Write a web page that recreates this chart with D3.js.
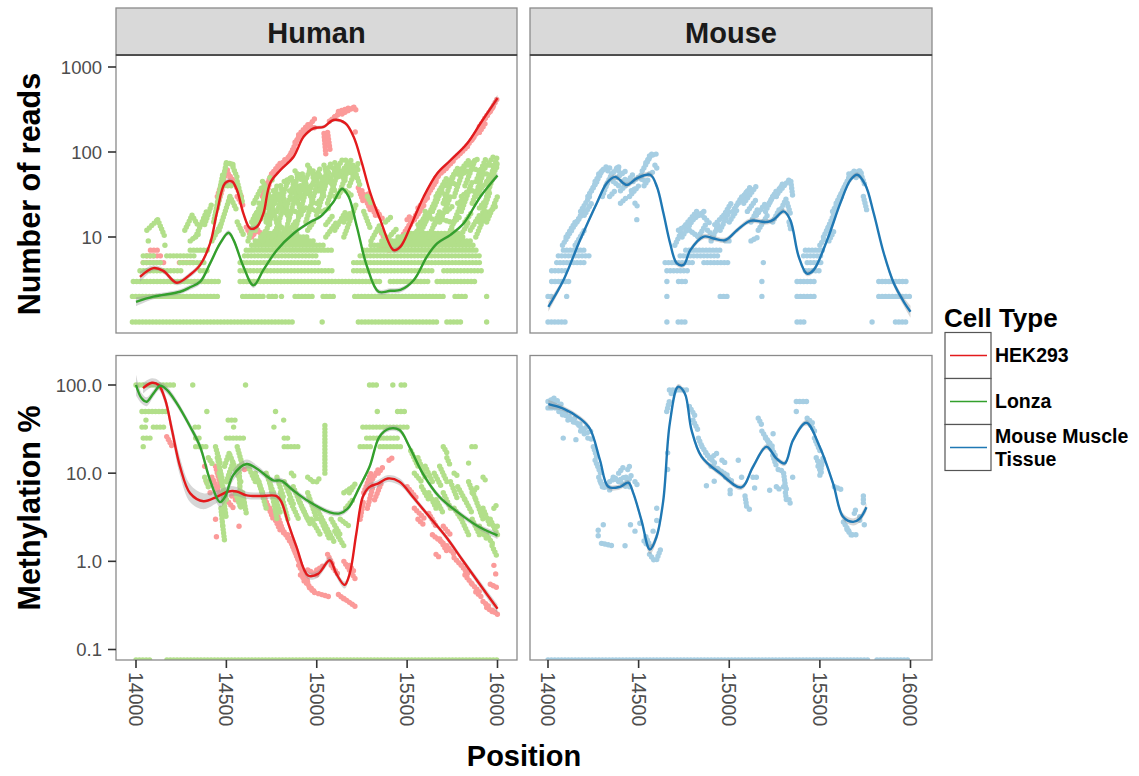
<!DOCTYPE html>
<html><head><meta charset="utf-8">
<script src="https://cdn.jsdelivr.net/npm/d3@7"></script>
<style>body{margin:0;background:#fff} svg{display:block} text{font-family:"Liberation Sans",Arial,Helvetica,sans-serif}</style>
</head><body><svg id="c" width="1139" height="776"></svg>
<script>
// ---------- labels / ticks ----------
const facets = ["Human", "Mouse"];
const cellTypes = ["HEK293", "Lonza", "Mouse Muscle Tissue"];
const xTicks = [14000, 14500, 15000, 15500, 16000];
const readsTicks = [10, 100, 1000];
const readsTickLabels = ["10", "100", "1000"];
const methTicks = [0.1, 1, 10, 100];
const methTickLabels = ["0.1", "1.0", "10.0", "100.0"];

// ---------- smoothed fits: [position, fit, half-width of band (log10)] ----------
const hekReadsFit = [[14022,3.4,0.06],[14096,4.3,0.03],[14151,4.0,0.03],[14225,2.9,0.03],[14299,3.6,0.03],[14355,4.7,0.03],[14410,8.4,0.03],[14447,19,0.03],[14493,43,0.03],[14530,45,0.03],[14558,36,0.03],[14594,19,0.03],[14632,12.6,0.03],[14669,13.2,0.03],[14705,19,0.03],[14742,43,0.03],[14798,61,0.02],[14872,88,0.02],[14927,151,0.02],[14982,190,0.02],[15038,198,0.02],[15093,238,0.02],[15158,218,0.02],[15204,151,0.02],[15250,74,0.02],[15296,33,0.02],[15352,15.8,0.02],[15426,7.0,0.03],[15463,7.7,0.03],[15518,13.2,0.02],[15592,30,0.02],[15666,56,0.02],[15740,80,0.02],[15832,126,0.02],[15906,218,0.02],[16000,430,0.04]];
const lonzaReadsFit = [[14000,1.73,0.05],[14096,1.99,0.03],[14244,2.27,0.03],[14299,2.56,0.03],[14355,2.98,0.03],[14410,4.9,0.03],[14465,8.4,0.03],[14512,11.2,0.03],[14540,9.2,0.03],[14594,4.5,0.03],[14650,2.7,0.03],[14705,4.1,0.02],[14779,7.0,0.02],[14872,11,0.02],[14964,15,0.02],[15019,17.3,0.02],[15093,26,0.02],[15140,37,0.02],[15176,30,0.02],[15222,13.2,0.02],[15278,4.5,0.02],[15342,2.27,0.03],[15407,2.33,0.03],[15463,2.38,0.03],[15536,3.1,0.02],[15610,5.9,0.02],[15666,8.4,0.02],[15740,10.6,0.02],[15813,14.5,0.02],[15906,30,0.02],[16000,53,0.03]];
const mouseReadsFit = [[14002,1.51,0.06],[14085,3.1,0.03],[14177,9.2,0.03],[14269,25,0.03],[14324,43,0.03],[14370,51,0.03],[14435,41,0.03],[14490,49,0.03],[14564,54,0.03],[14601,39,0.03],[14637,19,0.03],[14674,8.4,0.03],[14711,4.9,0.03],[14748,4.7,0.03],[14785,7.0,0.03],[14859,10.1,0.03],[14914,9.6,0.03],[14978,9.2,0.03],[15043,12,0.03],[15116,15.5,0.03],[15208,15,0.03],[15245,16,0.03],[15300,20,0.03],[15337,15.8,0.03],[15383,5.9,0.03],[15429,3.7,0.03],[15466,4.1,0.03],[15540,9.2,0.03],[15613,25,0.03],[15669,47,0.03],[15706,54,0.03],[15751,41,0.03],[15797,19,0.03],[15853,6.4,0.03],[15908,2.85,0.04],[15963,1.73,0.05],[16000,1.32,0.07]];
const hekMethFit = [[14039,92,0.06],[14088,106,0.05],[14125,100,0.05],[14162,67.6,0.06],[14199,30.8,0.08],[14244,11.8,0.1],[14300,5.9,0.1],[14373,4.8,0.09],[14447,5.4,0.07],[14511,6.2,0.06],[14557,6.2,0.05],[14612,5.6,0.04],[14686,5.5,0.04],[14778,5.5,0.04],[14805,4.7,0.04],[14842,2.7,0.04],[14888,1.46,0.04],[14952,0.69,0.04],[15007,0.72,0.04],[15072,1.03,0.04],[15109,0.72,0.04],[15154,0.54,0.04],[15182,0.72,0.04],[15219,2.07,0.04],[15255,5.4,0.04],[15292,7.0,0.04],[15338,7.6,0.04],[15393,8.7,0.04],[15458,8.0,0.04],[15531,5.4,0.03],[15623,3.2,0.03],[15715,1.9,0.03],[15807,1.03,0.03],[15899,0.56,0.04],[16000,0.29,0.05]];
const lonzaMethFit = [[14000,100,0.12],[14031,70.6,0.06],[14059,64.6,0.05],[14096,80,0.04],[14134,98,0.04],[14171,88,0.04],[14226,62,0.04],[14300,33.6,0.04],[14355,19.9,0.05],[14410,8.3,0.05],[14465,4.7,0.06],[14493,5.4,0.06],[14538,9.5,0.06],[14612,12.7,0.05],[14667,11.3,0.04],[14759,8.3,0.03],[14805,8.2,0.03],[14869,6.4,0.03],[14961,4.7,0.03],[15072,3.6,0.03],[15127,3.5,0.03],[15173,4.0,0.03],[15237,7.0,0.03],[15292,11.8,0.03],[15347,25.9,0.03],[15402,32,0.03],[15458,30.8,0.03],[15513,19.9,0.03],[15587,9.9,0.03],[15678,5.4,0.03],[15789,3.5,0.03],[15899,2.45,0.03],[16000,1.97,0.04]];
const mouseMethFit = [[14002,60.8,0.05],[14085,54,0.03],[14176,41.8,0.03],[14231,32,0.03],[14287,14,0.03],[14333,7,0.03],[14397,7,0.03],[14443,7.8,0.03],[14471,5.9,0.03],[14516,2.9,0.04],[14562,1.36,0.05],[14599,1.9,0.05],[14636,4.9,0.04],[14672,36.7,0.04],[14718,95.6,0.03],[14755,80,0.03],[14792,30.8,0.03],[14847,15.4,0.03],[14948,10,0.03],[15067,6.9,0.03],[15131,11.8,0.03],[15205,19.9,0.03],[15260,14.7,0.03],[15306,12.9,0.03],[15352,23.7,0.03],[15425,37.3,0.03],[15499,19.9,0.03],[15573,7.6,0.03],[15628,3.2,0.04],[15683,2.8,0.04],[15720,3.05,0.04],[15757,4.1,0.05]];

// ---------- raw observations ----------
// rows of points at one value: [start position, end position, value]  (value 0 = zero methylation)
// streaks of consecutive points: [pos1, value1, pos2, value2]
const hekReadsRows = [[14040,14170,5],[14060,14150,6],[14080,14130,7],[14240,14320,5]];
const hekReadsStreaks = [
 [14450,30,14490,55],[14470,40,14510,65],[14500,60,14540,45],[14520,50,14570,38],[14540,45,14590,28],[14560,30,14600,22],[14455,25,14480,38],
 [14610,13,14640,10],[14640,10,14670,12],[14650,14,14690,11],
 [14700,20,14740,45],[14720,40,14760,60],[14750,55,14800,75],[14780,60,14830,85],[14700,30,14720,42],
 [14830,80,14880,110],[14850,90,14900,150],[14880,130,14930,180],[14900,160,14960,220],[14930,170,14990,250],[14950,200,15000,190],
 [15040,165,15050,95],[15060,170,15075,100],
 [15070,230,15120,280],[15100,260,15160,320],[15140,280,15210,340],[15120,300,15180,330],[15200,330,15230,300],[15213,172,15213,172],
 [15230,38,15260,25],[15250,35,15300,20],[15280,30,15330,17],[15300,25,15350,18],[15320,20,15370,16],[15260,28,15290,33],[15350,12,15370,10],
 [15350,8,15400,7.5],[15400,7,15460,8],[15440,8,15470,9],
 [15470,10,15530,16],[15500,12,15560,20],[15540,16,15600,25],[15560,22,15620,30],[15600,28,15660,45],[15620,35,15680,55],[15660,50,15720,65],
 [15700,60,15760,80],[15740,75,15800,100],[15780,90,15840,120],[15820,110,15870,150],[15860,140,15910,200],[15900,200,15950,280],
 [15930,250,15980,350],[15960,300,16000,430],[15900,170,15940,230],[15500,16,15520,18]
];
const lonzaReadsRows = [
 [13980,14880,1],[15030,15030,1],[15230,15675,1],[15720,15800,1],[15940,15940,1],
 [13980,14460,2],[14590,14715,2],[14735,14780,2],[14805,14805,2],[14880,14980,2],[15035,15095,2],[15210,15700,2],[15765,15825,2],[15940,15940,2],
 [13985,14457,3],[14576,15352,3],[15407,15629,3],[15666,15887,3],
 [14022,14260,4],[14355,14410,4],[14576,15093,4],[15204,15647,4],[15703,15924,4],
 [14040,14150,5],[14244,14392,5],[14576,15019,5],[15204,15906,5],
 [14040,14100,6],[14170,14330,6],[14600,15000,6],[15240,15906,6],
 [14300,14410,7],[14610,15093,7],[15260,15890,7],
 [14640,15050,8],[15300,15880,8],
 [14660,14990,9],[15360,15850,9],[14700,14950,10],[15450,15820,10],[14720,14900,11],[15520,15800,11]
];
const lonzaReadsStreaks = [
 [14060,12,14120,16],[14120,16,14160,10],[14068,9,14068,9],[14160,8,14160,8],
 [14270,12,14310,18],[14310,18,14340,14],[14330,10,14390,20],[14380,14,14420,25],[14300,9,14350,11],
 [14430,15,14480,55],[14450,22,14500,75],[14500,75,14550,70],[14530,72,14560,50],[14460,12,14520,30],[14520,30,14560,20],[14470,40,14540,40],[14560,45,14590,25],[14420,9,14470,14],[14560,15,14600,10],
 [14620,9,14680,22],[14660,12,14720,35],[14680,25,14740,14],[14700,9,14760,20],[14720,15,14780,40],[14740,30,14790,12],[14760,9,14820,25],
 [14780,20,14840,45],[14800,40,14850,15],[14820,10,14880,30],[14840,25,14900,55],[14860,50,14910,20],[14880,12,14940,35],[14900,30,14960,60],
 [14920,55,14980,25],[14940,15,15000,40],[14960,35,15020,65],[14980,60,15040,30],[15000,18,15060,50],[15020,40,15080,75],[15040,70,15100,35],
 [15060,25,15120,60],[15080,50,15140,80],[15100,75,15160,45],[15120,30,15180,70],[15140,60,15200,85],[15160,80,15220,50],[15180,40,15230,75],
 [15200,70,15240,40],[15100,12,15160,20],[15150,10,15220,25],[15050,10,15110,15],[14700,45,14740,30],[14650,25,14700,40],[14950,70,14990,50],[14880,60,14920,45],
 [14640,15,14670,20],[14690,18,14720,25],[14730,22,14760,30],[14770,25,14800,35],[14810,30,14840,22],[14850,35,14880,40],[14890,40,14920,28],
 [14930,45,14960,35],[14970,40,15000,50],[15010,55,15040,45],[15050,60,15080,55],[15090,65,15120,50],[15130,55,15160,65],[15170,60,15200,55],
 [14750,10,14790,14],[14850,12,14890,16],[14950,12,14990,16],[15050,14,15090,18],[15150,15,15190,20],[14690,10,14720,12],[14900,18,14940,22],
 [15000,25,15040,30],[15100,30,15140,35],
 [14660,18,14700,16],[14710,28,14750,25],[14760,35,14800,28],[14800,22,14840,18],[14860,28,14900,25],[14910,40,14950,32],[14960,22,15000,20],
 [15010,35,15050,40],[15060,45,15100,42],[15110,55,15150,50],[15160,35,15200,30],[15190,60,15230,62],[14820,45,14860,50],[14740,50,14760,45],
 [14980,50,15020,55],[15030,20,15070,22],[14780,15,14820,12],[14880,20,14920,18],
 [15260,20,15300,12],[15300,9,15350,14],[15350,12,15400,9],[15400,10,15450,13],[15450,9,15500,11],[15380,15,15420,18],[15280,30,15300,25],
 [15500,9,15560,12],[15540,10,15600,18],[15580,12,15640,22],[15600,15,15660,28],[15620,10,15680,20],[15640,20,15700,40],[15660,30,15720,50],
 [15680,15,15740,30],[15700,25,15760,55],[15720,40,15780,65],[15740,12,15800,25],[15760,30,15820,70],[15780,55,15840,80],[15800,20,15860,45],
 [15820,40,15880,85],[15840,70,15900,85],[15860,25,15920,55],[15880,45,15940,88],[15900,15,15960,35],[15920,60,15980,90],[15940,30,16000,75],
 [15960,50,16000,90],[15880,10,15940,20],[15940,15,16000,30],[15780,9,15840,15],[15850,12,15900,18],[15700,9,15750,12],
 [15560,14,15590,16],[15650,14,15690,18],[15720,20,15760,24],[15800,30,15840,35],[15880,30,15920,40],[15940,45,15980,60],[15820,15,15860,20],
 [15900,22,15940,28],[15760,15,15800,18],[15960,20,16000,24],
 [15600,20,15640,16],[15680,35,15720,30],[15740,45,15780,40],[15800,55,15840,60],[15860,65,15900,60],[15920,40,15960,45],[15960,70,16000,65],
 [15700,16,15740,15],[15780,25,15820,28],[15860,35,15900,32],[15940,55,15980,50]
];
const mouseReadsRows = [
 [14000,14103,1],[14656,14656,1],[14718,14766,1],[15374,15420,1],[15788,15788,1],[15917,15981,1],
 [14000,14030,2],[14103,14103,2],[14656,14656,2],[14950,15005,2],[15180,15180,2],[15374,15475,2],[15825,16000,2],
 [14020,14122,3],[14656,14656,3],[14720,14770,3],[15180,15180,3],[15374,15484,3],[15825,15980,3],
 [14020,14112,4],[14656,14780,4],[15420,15503,4],
 [14048,14214,5],[14646,14800,5],[14860,15000,5],[15188,15188,5],[15430,15512,5],
 [14057,14233,6],[14729,14950,6],[15410,15520,6],
 [14085,14214,7],[14760,14950,7],[15420,15520,7]
];
const mouseReadsStreaks = [
 [14080,8,14130,12],[14100,10,14150,15],[14130,12,14180,18],[14160,15,14210,22],[14180,20,14230,30],[14200,18,14240,25],[14220,30,14270,45],
 [14240,35,14290,55],[14260,45,14310,65],[14280,55,14330,70],[14150,8,14200,12],
 [14320,40,14360,60],[14350,55,14400,70],[14380,50,14430,60],[14400,35,14450,45],[14420,40,14470,55],[14450,30,14500,40],[14470,45,14520,55],
 [14480,25,14500,22],[14500,50,14540,45],[14520,60,14560,85],[14540,75,14580,100],[14560,90,14600,95],[14590,70,14610,60],[14400,25,14440,30],
 [14340,30,14370,35],[14490,16,14490,16],
 [14300,30,14330,45],[14360,45,14390,40],[14410,45,14440,50],[14460,35,14490,38],[14530,40,14560,50],[14560,55,14590,60],[14330,60,14350,70],[14380,65,14400,55],
 [14700,8,14740,12],[14720,12,14770,14],[14740,10,14800,16],[14760,14,14820,20],[14780,12,14830,10],[14800,16,14860,20],[14830,10,14870,14],
 [14850,18,14900,14],[14880,12,14920,10],[14900,9,14940,14],[14920,14,14970,18],[14950,12,15000,20],[14970,18,15010,25],[15000,15,15050,22],
 [15020,20,15070,30],[15050,25,15100,35],[15070,28,15120,40],[15080,25,15150,40],[15100,20,15150,28],[15120,15,15160,22],[15150,18,15200,25],
 [15160,12,15210,18],[15200,20,15240,30],[15220,25,15260,35],[15240,15,15280,22],[15260,30,15300,45],[15280,20,15320,30],[15240,30,15290,40],
 [15280,35,15330,47],[15340,45,15350,30],[15320,25,15340,18],[15330,15,15340,12],[15120,9,15160,10],[14980,9,15000,9],
 [15520,10,15560,15],[15540,12,15590,22],[15570,20,15620,30],[15590,25,15640,40],[15610,30,15660,50],[15640,40,15690,60],[15660,55,15720,60],
 [15700,50,15740,60],[15720,60,15750,40],[15740,30,15760,20],[15500,8,15530,10],[15550,9,15580,12]
];
const hekMethStreaks = [
 [14170,26,14200,20],[14380,12,14380,12],[14390,8,14390,8],[14410,6,14410,6],[14440,3,14440,3],[14445,1.9,14445,1.9],[14570,2.5,14570,2.5],
 [14585,4.5,14585,4.5],[14600,11,14600,11],[14550,5,14550,5],[14530,5.5,14530,5.5],[14420,9,14460,6],[14440,12,14470,7],[14500,5,14540,4],
 [14700,6,14760,3],[14740,4,14800,2.2],[14780,3.5,14820,2],[14800,2.5,14850,1.7],
 [14840,2,14880,1.3],[14860,1.6,14900,1],[14880,1.3,14920,0.8],[14900,0.9,14950,0.6],[14910,0.7,14960,0.55],[14930,0.6,14990,0.45],[14960,0.5,15000,0.42],
 [14950,0.8,15000,0.7],[15000,0.8,15040,0.9],[15010,0.43,15080,0.39],[15060,1.2,15090,0.9],[15080,0.9,15120,0.7],[15120,0.42,15160,0.36],[15150,0.38,15220,0.3],
 [15150,1.0,15220,0.6],[15180,0.9,15210,0.75],
 [15240,3,15260,5],[15260,6,15300,10],[15280,4,15310,7],[15300,8,15340,11],[15320,5,15360,8],[15340,10,15370,12],[15400,14,15420,15],
 [15500,7,15560,5],[15540,4,15600,3],[15560,3,15600,2.5],[15620,3.5,15660,2.5],[15640,2,15700,1.6],[15680,1.8,15720,1.3],[15700,2.5,15740,2],
 [15720,1.5,15760,1.2],[15760,1.1,15800,0.9],[15800,0.9,15840,0.7],[15820,0.7,15860,0.55],[15860,0.55,15900,0.45],[15880,0.45,15920,0.38],
 [15920,0.35,15960,0.3],[15940,0.3,15980,0.26],[15970,0.28,16000,0.25],[15960,0.55,16000,0.5],[15990,0.72,15990,0.72],[15980,0.9,15980,0.9],[15660,1.2,15680,1.1]
];
const lonzaMethRows = [
 [14000,14220,100],[14314,14314,100],[14606,14606,100],[15292,15338,100],[15421,15421,100],[15467,15491,100],
 [14033,14171,50],[14392,14392,50],[14772,14772,50],[15335,15335,50],[15447,15495,50],
 [14055,14055,40],[14510,14548,40],[14817,14817,40],
 [14033,14070,33.3],[14096,14162,33.3],[14327,14350,33.3],[14540,14540,33.3],[14763,14763,33.3],[15255,15513,33.3],
 [14040,14096,25],[14330,14350,25],[14500,14600,25],[14820,14840,25],[15276,15459,25],
 [14040,14040,20],[14330,14400,20],[14820,14910,20],[15240,15300,20],[15350,15470,20],[15858,15880,20],
 [14000,14088,0],[14171,16000,0]
];
const lonzaMethStreaks = [
 [15045,10,15045,37],
 [14450,15,14480,8],[14460,10,14500,5],[14480,6,14500,3],[14440,20,14470,12],[14490,12,14520,18],[14500,8,14540,14],[14520,16,14560,10],
 [14540,12,14580,8],[14480,2.5,14490,1.7],[14470,4,14480,2.5],[14560,20,14590,12],[14550,6,14580,4],[14590,6,14610,3.5],[14400,15,14430,12],
 [14380,9,14400,7],[14570,12,14580,4],
 [14620,12,14660,8],[14660,10,14700,6],[14680,8,14720,4],[14720,10,14760,6],[14740,8,14780,3],[14760,6,14800,3.5],[14780,9,14820,5],
 [14800,6,14840,3],[14820,8,14870,4.5],[14850,5,14900,3],[14870,7,14920,4],[14900,5,14950,3],[14920,4,14970,2.5],[14950,6,15000,3],
 [14970,3,15020,2],[15000,4,15050,2.5],[15020,3,15070,1.8],[15050,2.5,15100,1.6],[15080,3,15130,2],[15100,2.2,15150,1.5],[15130,3,15180,2.5],
 [15160,4,15200,5],[15180,6,15220,8],[14860,10,14880,9],[14950,9,14980,8],[15000,8,15020,9],[15150,6,15200,7],
 [15520,18,15560,12],[15540,10,15580,8],[15560,15,15600,9],[15580,7,15620,5],[15600,12,15640,8],[15620,6,15660,4],[15650,10,15690,7],
 [15660,5,15700,3.5],[15680,12,15720,8],[15700,6,15740,4],[15720,15,15740,12],[15740,8,15780,5],[15760,4,15800,3],[15780,7,15820,5],
 [15800,3,15840,2],[15820,5,15860,3.5],[15840,8,15880,5],[15860,3,15900,2],[15880,5,15920,3],[15900,2.5,15940,1.8],[15920,4,15960,2.5],
 [15940,2,15980,1.5],[15960,3,16000,2],[15970,1.5,16000,1.1],[15980,2.5,16000,2.5],[15700,20,15720,17],[15840,13,15840,13],
 [15600,6,15630,5],[15760,10,15790,9],[15860,6,15890,7],[15920,9,15940,8],[15980,4,16000,4.5]
];
const mouseMethRows = [[14000,15779,0],[15815,16000,0]];
const mouseMethStreaks = [
 [14000,65,14040,72],[14020,60,14060,68],[14040,55,14080,62],[14000,55,14020,55],[14060,50,14100,48],[14080,46,14120,44],[14110,40,14150,42],
 [14140,38,14180,36],[14170,35,14200,30],[14180,30,14220,34],[14200,28,14240,30],[14220,25,14250,24],[14084,25,14084,25],[14154,24,14154,24],
 [14250,20,14270,15],[14260,14,14290,10],[14280,9,14300,7],[14290,8,14320,6.5],[14320,7.5,14350,6],[14340,8,14380,9],[14360,9,14390,8],
 [14390,10,14420,12],[14400,8,14430,7],[14430,9,14450,7],
 [14277,2.25,14277,2.25],[14277,1.95,14277,1.95],[14295,1.6,14360,1.5],[14425,1.5,14425,1.5],[14305,2.6,14305,2.6],[14455,2.6,14455,2.6],
 [14480,2.2,14480,2.2],[14507,2.7,14507,2.7],[14600,4.0,14600,4.0],
 [14400,8.5,14420,9],[14440,8,14460,9.5],[14480,8,14500,7],[14440,11,14450,12],
 [14530,1.7,14550,1.5],[14560,1.2,14590,1.0],[14600,1.05,14620,1.35],[14540,1.9,14570,1.4],[14580,2.2,14580,2.2],[14600,2.9,14600,2.9],
 [14660,17,14660,17],[14660,11,14660,11],[14655,50,14670,66],[14670,88,14780,88],[14680,80,14700,85],
 [14780,57,14810,45],[14800,40,14830,30],[14830,25,14850,20],[14850,20,14880,16],[14870,17,14900,14],
 [14880,16,14920,13],[14900,12,14950,11],[14940,11,14990,9.5],[14980,9,15020,8],[14960,14,14980,13],[14874,7.2,14874,7.2],[14917,8.1,14917,8.1],[14900,15,14935,17],
 [15005,6.4,15005,5.8],[15050,14,15059,13],[15068,9,15068,9],[15087,5.5,15096,4.2],[15111,3.9,15111,3.9],[15131,9,15150,9],[15140,6.8,15140,6.8],
 [15160,42,15180,35],[15180,30,15220,22],[15200,25,15240,20],[15220,22,15260,15],[15240,16,15260,12],[15270,11,15300,10.5],[15300,10,15310,7],[15310,6,15315,5],[15242,28,15242,28],
 [15223,6.4,15223,6.4],[15260,7,15280,6.5],[15300,7,15320,6.5],[15330,5,15340,4.3],[15350,9,15350,9],
 [15370,65,15435,65],[15370,50,15370,50],[15430,42,15460,37],[15450,35,15480,28],[15470,25,15500,18],[15480,15,15500,12],[15490,12,15510,10],[15500,9.5,15518,15],
 [15580,7,15620,6.5],[15630,2.8,15660,2.2],[15650,2.3,15680,1.9],[15680,2,15700,2],
 [15690,3.5,15700,4],[15720,3.2,15720,2.7],[15740,5.5,15740,4.5],[15745,2.6,15750,2.8]
];

// ---------- colours ----------
const pointColor = {HEK293:"#FB9A99", Lonza:"#B2DF8A", Mouse:"#A6CEE3"};
const lineColor = {HEK293:"#E31A1C", Lonza:"#33A02C", Mouse:"#1F78B4"};

// ---------- layout ----------
const svg = d3.select("#c");
const cols = [{x0:116, x1:517, r:[136,497.5]}, {x0:530, x1:932, r:[548,910.5]}];
const rows = [
  {y0:55, y1:333, y: d3.scaleLog().domain([1,1000]).range([322,67]), ticks: readsTicks, labels: readsTickLabels},
  {y0:355.5, y1:660, y: d3.scaleLog().domain([0.1,100]).range([649.5,385]), ticks: methTicks, labels: methTickLabels}
];
const panels = [
  {c:0, r:0, layers:[{k:"HEK293", rows:hekReadsRows, streaks:hekReadsStreaks, fit:hekReadsFit},{k:"Lonza", rows:lonzaReadsRows, streaks:lonzaReadsStreaks, fit:lonzaReadsFit}]},
  {c:1, r:0, layers:[{k:"Mouse", rows:mouseReadsRows, streaks:mouseReadsStreaks, fit:mouseReadsFit}]},
  {c:0, r:1, layers:[{k:"HEK293", rows:[], streaks:hekMethStreaks, fit:hekMethFit},{k:"Lonza", rows:lonzaMethRows, streaks:lonzaMethStreaks, fit:lonzaMethFit}]},
  {c:1, r:1, layers:[{k:"Mouse", rows:mouseMethRows, streaks:mouseMethStreaks, fit:mouseMethFit}]}
];

const defs = svg.append("defs");
panels.forEach((p,i) => {
  const C = cols[p.c], R = rows[p.r];
  defs.append("clipPath").attr("id","clip"+i).append("rect")
    .attr("x",C.x0).attr("y",R.y0).attr("width",C.x1-C.x0).attr("height",R.y1-R.y0);
  const x = d3.scaleLinear().domain([14000,16000]).range(C.r);
  const yv = v => v <= 0 ? R.y1 : R.y(v);
  const g = svg.append("g").attr("clip-path","url(#clip"+i+")");
  g.append("rect").attr("x",C.x0).attr("y",R.y0).attr("width",C.x1-C.x0).attr("height",R.y1-R.y0).attr("fill","#fff");
  // points: each row / streak is a chain of overlapping dots
  p.layers.forEach(L => {
    const segs = L.rows.map(d => [d[0],d[2],d[1],d[2]]).concat(L.streaks);
    g.append("g").selectAll("path").data(segs).join("path")
      .attr("d", d => `M${x(d[0])},${yv(d[1])}L${x(d[2])+0.01},${yv(d[3])}`)
      .attr("stroke", pointColor[L.k]).attr("stroke-width",5.4).attr("stroke-linecap","round")
      .attr("stroke-dasharray","0 3.4").attr("fill","none");
  });
  // bands + lines
  p.layers.forEach(L => {
    const area = d3.area().curve(d3.curveCatmullRom.alpha(0.5))
      .x(d => x(d[0]))
      .y0(d => R.y(Math.pow(10, Math.log10(d[1]) - d[2])))
      .y1(d => R.y(Math.pow(10, Math.log10(d[1]) + d[2])));
    g.append("path").attr("d", area(L.fit)).attr("fill","#999").attr("fill-opacity",0.4);
  });
  p.layers.forEach(L => {
    const line = d3.line().curve(d3.curveCatmullRom.alpha(0.5)).x(d => x(d[0])).y(d => R.y(d[1]));
    g.append("path").attr("d", line(L.fit)).attr("fill","none").attr("stroke",lineColor[L.k]).attr("stroke-width",2.4);
  });
  // border
  svg.append("rect").attr("x",C.x0).attr("y",R.y0).attr("width",C.x1-C.x0).attr("height",R.y1-R.y0)
    .attr("fill","none").attr("stroke","#8a8a8a").attr("stroke-width",1.3);
  // y axis (left column only)
  if (p.c === 0) {
    const ya = svg.append("g");
    R.ticks.forEach((t,j) => {
      const yy = R.y(t);
      ya.append("line").attr("x1",C.x0-8).attr("x2",C.x0).attr("y1",yy).attr("y2",yy).attr("stroke","#333").attr("stroke-width",1.6);
      ya.append("text").attr("x",C.x0-14).attr("y",yy).attr("dy","0.36em").attr("text-anchor","end")
        .attr("font-size",18.5).attr("fill","#4d4d4d").text(R.labels[j]);
    });
  }
  // x axis (bottom row only)
  if (p.r === 1) {
    const xa = svg.append("g");
    xTicks.forEach(t => {
      const xx = x(t);
      xa.append("line").attr("x1",xx).attr("x2",xx).attr("y1",R.y1).attr("y2",R.y1+8).attr("stroke","#333").attr("stroke-width",1.6);
      xa.append("text").attr("transform",`translate(${xx},${R.y1+12}) rotate(90)`).attr("dy","0.36em")
        .attr("text-anchor","start").attr("font-size",19.5).attr("fill","#4d4d4d").text(String(t));
    });
  }
});

// strips
facets.forEach((f,i) => {
  const C = cols[i];
  svg.append("rect").attr("x",C.x0).attr("y",8).attr("width",C.x1-C.x0).attr("height",47)
    .attr("fill","#d9d9d9").attr("stroke","#8a8a8a").attr("stroke-width",1.3);
  svg.append("line").attr("x1",C.x0).attr("x2",C.x1).attr("y1",55).attr("y2",55).attr("stroke","#333").attr("stroke-width",1.5);
  svg.append("text").attr("x",(C.x0+C.x1)/2).attr("y",42.5).attr("text-anchor","middle")
    .attr("font-size",29).attr("font-weight","bold").attr("fill","#1a1a1a").text(f);
});

// axis titles
svg.append("text").attr("transform","translate(40,194) rotate(-90)").attr("text-anchor","middle")
  .attr("font-size",30.5).attr("font-weight","bold").text("Number of reads");
svg.append("text").attr("transform","translate(40,508) rotate(-90)").attr("text-anchor","middle")
  .attr("font-size",30.5).attr("font-weight","bold").text("Methylation %");
svg.append("text").attr("x",524).attr("y",766).attr("text-anchor","middle")
  .attr("font-size",29).attr("font-weight","bold").text("Position");

// legend
const leg = svg.append("g");
leg.append("text").attr("x",944).attr("y",327).attr("font-size",26).attr("font-weight","bold").text("Cell Type");
const legKeys = ["HEK293","Lonza","Mouse"];
legKeys.forEach((k,i) => {
  const y0 = 332.5 + i*46;
  leg.append("rect").attr("x",945).attr("y",y0).attr("width",46).attr("height",46).attr("fill","#fff").attr("stroke","#555").attr("stroke-width",1.2);
  leg.append("line").attr("x1",950).attr("x2",987).attr("y1",y0+23).attr("y2",y0+23).attr("stroke",lineColor[k]).attr("stroke-width",1.5);
});
leg.append("text").attr("x",995).attr("y",362).attr("font-size",19.5).attr("font-weight","bold").text(cellTypes[0]);
leg.append("text").attr("x",995).attr("y",408).attr("font-size",19.5).attr("font-weight","bold").text(cellTypes[1]);
leg.append("text").attr("x",995).attr("y",443).attr("font-size",19.5).attr("font-weight","bold").text("Mouse Muscle");
leg.append("text").attr("x",995).attr("y",466).attr("font-size",19.5).attr("font-weight","bold").text("Tissue");
</script></body></html>
